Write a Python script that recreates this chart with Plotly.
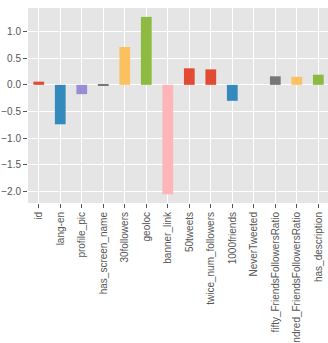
import plotly.graph_objects as go

categories = ["id", "lang-en", "profile_pic", "has_screen_name", "30followers", "geoloc",
              "banner_link", "50tweets", "twice_num_followers", "1000friends", "NeverTweeted",
              "fifty_FriendsFollowersRatio", "hundred_FriendsFollowersRatio", "has_description"]
values = [0.06, -0.74, -0.175, -0.02, 0.71, 1.275, -2.05, 0.31, 0.29, -0.30, 0.0, 0.16, 0.15, 0.19]
colors = ["#E24A33", "#348ABD", "#988ED5", "#777777", "#FBC15E", "#8EBA42", "#FFB5B8",
          "#E24A33", "#E24A33", "#348ABD", "#988ED5", "#777777", "#FBC15E", "#8EBA42"]
ytick_vals = [-2.0, -1.5, -1.0, -0.5, 0.0, 0.5, 1.0]

fig = go.Figure(go.Bar(x=list(range(len(categories))), y=values, marker_color=colors,
                       marker_line_width=0, width=0.5))

fig.update_layout(
    width=328, height=343,
    margin=dict(l=28, r=0, t=8, b=140, autoexpand=False),
    paper_bgcolor="white", plot_bgcolor="#E5E5E5",
    showlegend=False,
    font=dict(family="Liberation Sans, Arial", size=10, color="#555555"),
)
fig.update_xaxes(
    range=[-0.5, 13.45], tickmode="array", tickvals=list(range(len(categories))),
    ticktext=categories, tickangle=-90, showgrid=True, gridcolor="white", gridwidth=1,
    ticks="outside", ticklen=4, tickcolor="#555555", zeroline=False, automargin=False,
    tickfont=dict(size=10, color="#555555"),
)
fig.update_yaxes(
    range=[-2.216, 1.441], tickvals=ytick_vals, tickformat=".1f",
    showgrid=True, gridcolor="white", gridwidth=1, zeroline=False, automargin=False,
    ticks="outside", ticklen=4, tickcolor="#555555",
    tickfont=dict(size=10, color="#555555"),
)

fig.write_html("out.html")
